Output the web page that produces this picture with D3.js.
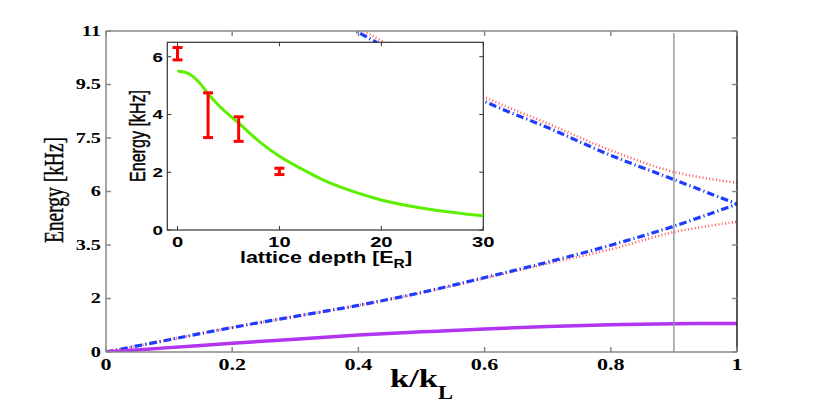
<!DOCTYPE html>
<html>
<head>
<meta charset="utf-8">
<script src="https://cdn.jsdelivr.net/npm/d3@7"></script>
<style>
  body { margin: 0; background: #fff; }
  svg { display: block; }
</style>
</head>
<body>
<div id="chart"></div>
<script>
const W = 814, H = 415;

// main plot data
const kVals = [0, 0.1, 0.2, 0.3, 0.4, 0.5, 0.6, 0.7, 0.8, 0.9, 1.0];
const purpleBand = [0, 0.15, 0.30, 0.44, 0.58, 0.69, 0.79, 0.87, 0.93, 0.97, 0.98];
const blueLower = [0, 0.42, 0.84, 1.22, 1.6, 2.04, 2.55, 3.08, 3.66, 4.31, 5.07];
const redLower = [0, 0.42, 0.84, 1.22, 1.6, 2.03, 2.53, 3.03, 3.52, 4.11, 4.46];
const kUpper = [0.3, 0.4, 0.5, 0.6, 0.7, 0.8, 0.9, 1.0];
const blueUpper = [12.1, 10.95, 9.75, 8.59, 7.69, 6.74, 5.91, 5.07];
const redUpper = [12.3, 11.1, 9.9, 8.74, 7.83, 6.91, 6.17, 5.8];
const markerK = 0.9;

const xTicks = [0, 0.2, 0.4, 0.6, 0.8, 1];
const yTickLabels = ["0", "2", "3.5", "6", "7.5", "9.5", "11"];

// inset data
const depth = [0, 1, 2, 3, 4, 5, 6, 8, 10, 12, 15, 20, 25, 30];
const theory = [5.51, 5.43, 5.16, 4.72, 4.33, 4.0, 3.70, 3.07, 2.55, 2.15, 1.62, 1.04, 0.70, 0.49];
const measDepth = [0, 3, 6, 10];
const measLo = [5.89, 3.2, 3.07, 1.92];
const measHi = [6.32, 4.75, 3.92, 2.14];
const insetXTicks = [0, 10, 20, 30];
const insetYTicks = [0, 2, 4, 6];

const m = {l: 106, r: 737, t: 31, b: 352};
const ins = {l: 167.3, r: 483.3, t: 42.3, b: 230};

const serif = "'Liberation Serif', 'Times New Roman', serif";
const sans = "'Liberation Sans', Arial, sans-serif";

const svg = d3.select("#chart").append("svg").attr("width", W).attr("height", H);

const x = d3.scaleLinear().domain([0, 1]).range([m.l, m.r]);
const y = d3.scaleLinear().domain([0, 11]).range([m.b, m.t]);

svg.append("clipPath").attr("id", "clip")
  .append("rect").attr("x", m.l).attr("y", m.t).attr("width", m.r - m.l).attr("height", m.b - m.t);

const plot = svg.append("g").attr("clip-path", "url(#clip)");

const line = (xs, ys) => d3.line().curve(d3.curveCatmullRom)
  .x((d, i) => x(xs[i])).y(d => y(d))(ys);

// red dotted first, blue dash-dot over it
[[kVals, redLower], [kUpper, redUpper]].forEach(([xs, ys]) => {
  plot.append("path").attr("d", line(xs, ys))
    .attr("fill", "none").attr("stroke", "#ff5a5a").attr("stroke-width", 2.6)
    .attr("stroke-dasharray", "1,2.4");
});
[[kVals, blueLower], [kUpper, blueUpper]].forEach(([xs, ys]) => {
  plot.append("path").attr("d", line(xs, ys))
    .attr("fill", "none").attr("stroke", "#1e3cff").attr("stroke-width", 3.2)
    .attr("stroke-dasharray", "7.5,3,1.2,3");
});
plot.append("path").attr("d", line(kVals, purpleBand))
  .attr("fill", "none").attr("stroke", "#b233f0").attr("stroke-width", 3.5);

plot.append("line")
  .attr("x1", x(markerK)).attr("x2", x(markerK))
  .attr("y1", m.t + 2).attr("y2", m.b)
  .attr("stroke", "#999").attr("stroke-width", 1.5);

// frame with inward ticks
const frame = svg.append("g").attr("fill", "none").attr("stroke-width", 1.5);
frame.append("line").attr("x1", m.l).attr("x2", m.r).attr("y1", m.t).attr("y2", m.t).attr("stroke", "#888");
frame.append("line").attr("x1", m.l).attr("x2", m.r).attr("y1", m.b).attr("y2", m.b).attr("stroke", "#888");
frame.append("line").attr("x1", m.l).attr("x2", m.l).attr("y1", m.t).attr("y2", m.b).attr("stroke", "#888");
frame.append("line").attr("x1", m.r).attr("x2", m.r).attr("y1", m.t).attr("y2", m.b).attr("stroke", "#222");

const yTickVals = yTickLabels.map((d, i) => 11 * i / 6);
xTicks.forEach(t => {
  frame.append("line").attr("x1", x(t)).attr("x2", x(t)).attr("y1", m.b).attr("y2", m.b - 5).attr("stroke", "#888");
  frame.append("line").attr("x1", x(t)).attr("x2", x(t)).attr("y1", m.t).attr("y2", m.t + 5).attr("stroke", "#888");
});
yTickVals.forEach(t => {
  frame.append("line").attr("x1", m.l).attr("x2", m.l + 5).attr("y1", y(t)).attr("y2", y(t)).attr("stroke", "#888");
  frame.append("line").attr("x1", m.r).attr("x2", m.r - 5).attr("y1", y(t)).attr("y2", y(t)).attr("stroke", "#888");
});

svg.append("g").selectAll("text").data(yTickVals).join("text")
  .attr("transform", d => `translate(101,${y(d)}) scale(1.4,1)`)
  .attr("text-anchor", "end").attr("dominant-baseline", "central")
  .attr("font-family", serif).attr("font-weight", "bold").attr("font-size", 14.5)
  .text((d, i) => yTickLabels[i]);

svg.append("g").selectAll("text").data(xTicks).join("text")
  .attr("transform", d => `translate(${x(d)},369.5) scale(1.3,1)`)
  .attr("text-anchor", "middle")
  .attr("font-family", serif).attr("font-weight", "bold").attr("font-size", 17)
  .text(d => d);

svg.append("text")
  .attr("transform", "translate(390,386.7) scale(1.38,1)")
  .attr("font-family", serif).attr("font-weight", "bold").attr("font-size", 25)
  .text("k/k");
svg.append("text")
  .attr("transform", "translate(438,399.3) scale(1.25,1)")
  .attr("font-family", serif).attr("font-weight", "bold").attr("font-size", 18)
  .text("L");

svg.append("text")
  .attr("transform", "translate(63.3,190) rotate(-90)")
  .attr("text-anchor", "middle")
  .attr("font-family", serif).attr("font-size", 27)
  .attr("stroke", "#000").attr("stroke-width", 0.4)
  .attr("textLength", 106).attr("lengthAdjust", "spacingAndGlyphs")
  .text("Energy [kHz]");

// inset
const xi = d3.scaleLinear().domain([-1, 30]).range([ins.l, ins.r]);
const yi = d3.scaleLinear().domain([0, 6.5]).range([ins.b, ins.t]);
const inset = svg.append("g");
inset.append("rect")
  .attr("x", ins.l).attr("y", ins.t).attr("width", ins.r - ins.l).attr("height", ins.b - ins.t)
  .attr("fill", "#fff").attr("stroke", "#333").attr("stroke-width", 1.2);

insetXTicks.forEach(t => {
  inset.append("line").attr("x1", xi(t)).attr("x2", xi(t)).attr("y1", ins.b).attr("y2", ins.b - 4).attr("stroke", "#333");
  inset.append("line").attr("x1", xi(t)).attr("x2", xi(t)).attr("y1", ins.t).attr("y2", ins.t + 4).attr("stroke", "#333");
});
insetYTicks.forEach(t => {
  inset.append("line").attr("x1", ins.l).attr("x2", ins.l + 4).attr("y1", yi(t)).attr("y2", yi(t)).attr("stroke", "#333");
  inset.append("line").attr("x1", ins.r).attr("x2", ins.r - 4).attr("y1", yi(t)).attr("y2", yi(t)).attr("stroke", "#333");
});

inset.append("path")
  .attr("d", d3.line().curve(d3.curveCatmullRom).x((d, i) => xi(depth[i])).y(d => yi(d))(theory))
  .attr("fill", "none").attr("stroke", "#5cf000").attr("stroke-width", 3);

const bars = inset.append("g").attr("stroke", "#ff0000").attr("stroke-width", 3);
measDepth.forEach((d, i) => {
  bars.append("line").attr("x1", xi(d)).attr("x2", xi(d)).attr("y1", yi(measLo[i])).attr("y2", yi(measHi[i]));
  bars.append("line").attr("x1", xi(d) - 5).attr("x2", xi(d) + 5).attr("y1", yi(measLo[i])).attr("y2", yi(measLo[i]));
  bars.append("line").attr("x1", xi(d) - 5).attr("x2", xi(d) + 5).attr("y1", yi(measHi[i])).attr("y2", yi(measHi[i]));
});

inset.append("g").selectAll("text").data(insetYTicks).join("text")
  .attr("transform", d => `translate(163,${yi(d)}) scale(1.45,1)`)
  .attr("text-anchor", "end").attr("dominant-baseline", "central")
  .attr("font-family", sans).attr("font-weight", "bold").attr("font-size", 13)
  .text(d => d);

inset.append("g").selectAll("text").data(insetXTicks).join("text")
  .attr("transform", d => `translate(${xi(d)},246.5) scale(1.3,1)`)
  .attr("text-anchor", "middle")
  .attr("font-family", sans).attr("font-weight", "bold").attr("font-size", 15.5)
  .text(d => d);

const xt = inset.append("text")
  .attr("transform", "translate(326,263) scale(1.3,1)")
  .attr("text-anchor", "middle")
  .attr("font-family", sans).attr("font-weight", "bold").attr("font-size", 16.5);
xt.append("tspan").text("lattice depth [E");
xt.append("tspan").attr("dy", 5).attr("font-size", 12).text("R");
xt.append("tspan").attr("dy", -5).text("]");

inset.append("text")
  .attr("transform", "translate(145,136) rotate(-90)")
  .attr("text-anchor", "middle")
  .attr("font-family", sans).attr("font-size", 22)
  .attr("stroke", "#000").attr("stroke-width", 0.45)
  .attr("textLength", 92).attr("lengthAdjust", "spacingAndGlyphs")
  .text("Energy [kHz]");
</script>
</body>
</html>
